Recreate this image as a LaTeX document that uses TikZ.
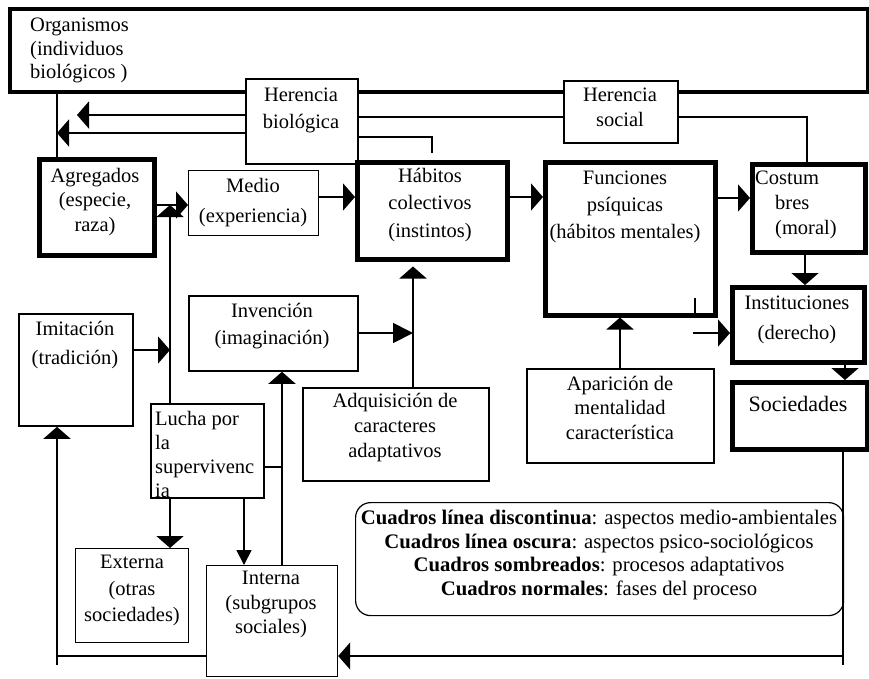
\documentclass[tikz,border=0pt]{standalone}
\usepackage{fontspec}
\setmainfont{Liberation Serif}
\usetikzlibrary{arrows.meta}
\newcommand\fsz{\fontsize{20.5}{24.5}\selectfont}
\newcommand\lsz{\fontsize{20.7}{24.5}\selectfont}
\begin{document}
\begin{tikzpicture}[x=1pt,y=-1pt,
  thickbox/.style={draw, fill=white, line width=4.5pt, inner sep=0pt, anchor=north west},
  thinbox/.style={draw, fill=white, line width=1.8pt, inner sep=0pt, anchor=north west},
  lightbox/.style={draw, fill=white, line width=1.2pt, inner sep=0pt, anchor=north west},
  txt/.style={inner sep=0pt, anchor=north, align=center, font=\fsz, execute at begin node=\strut, yshift=-5pt},
  ltxt/.style={txt, anchor=north west, align=left},
  conn/.style={line width=1.8pt},
  >={Triangle[length=12pt,width=27pt]},
]
\useasboundingbox (0,0) rectangle (869,678);

% ---------- boxes ----------
\node[thickbox, line width=4pt, minimum width=858, minimum height=83] (org) at (8,7) {};
\node[thinbox, minimum width=112, minimum height=85] (hb) at (245,78) {};
\node[thinbox, minimum width=114, minimum height=62] (hs) at (563,80) {};
\node[thickbox, minimum width=115, minimum height=96] (agr) at (37,157) {};
\node[lightbox, minimum width=130, minimum height=65] (med) at (188,170) {};
\node[thickbox, minimum width=150, minimum height=97] (hab) at (355,160) {};
\node[thickbox, minimum width=170, minimum height=153] (fun) at (543,160) {};
\node[thickbox, minimum width=113, minimum height=88] (cos) at (750,162) {};
\node[thickbox, minimum width=132, minimum height=75] (inst) at (730,285) {};
\node[thickbox, minimum width=135, minimum height=67] (soc) at (730,380) {};
\node[thinbox, minimum width=114, minimum height=112] (imi) at (18,313) {};
\node[thinbox, minimum width=169, minimum height=75] (inv) at (188,295) {};
\node[thinbox, minimum width=186, minimum height=93] (adq) at (302,387) {};
\node[thinbox, minimum width=187, minimum height=94] (apa) at (526,368) {};
\node[thinbox, minimum width=113, minimum height=94] (luc) at (150,403) {};
\node[lightbox, minimum width=113, minimum height=94] (ext) at (75,548) {};
\node[lightbox, minimum width=131, minimum height=111] (int) at (206,565) {};
\node[lightbox, rounded corners=15pt, minimum width=488, minimum height=113] (leg) at (355,502) {};

% ---------- helper coordinates ----------
\coordinate (vx) at (57,0);
\coordinate (y115) at (77,115);
\coordinate (y133) at (57,133);
\coordinate (hbturn) at (432,137);
\coordinate (hbend) at (432,153);
\coordinate (y117) at (0,117);
\coordinate (hsturn) at (807,117);
\coordinate (y205) at (0,205);
\coordinate (lx) at (170,0);
\coordinate (y197) at (0,197);
\coordinate (y198) at (0,198);
\coordinate (x805) at (805,0);
\coordinate (tick1) at (695,298);
\coordinate (tick2) at (695,315);
\coordinate (instin) at (693,333);
\coordinate (x845) at (845,0);
\coordinate (x843) at (843,0);
\coordinate (socturn) at (843,656);
\coordinate (socend) at (843,665);
\coordinate (bl) at (57,656);
\coordinate (blend) at (57,665);
\coordinate (imiy) at (0,350);
\coordinate (invy) at (413,333);
\coordinate (x413) at (413,0);
\coordinate (lucR) at (282,467);
\coordinate (x282) at (282,0);
\coordinate (x244) at (244,0);
\coordinate (x620) at (620,0);

% ---------- connectors ----------
\draw[conn] (org.south -| vx) -- (agr.north -| vx);
\draw[conn,line width=2.4pt,->] (hb.west |- y115) -- (y115);
\draw[conn,->] (hb.west |- y133) -- (y133);
\draw[conn] (hb.east |- hbturn) -- (hbturn) -- (hbend);
\draw[conn,line width=2.2pt] (hb.east |- y117) -- (hs.west |- y117);
\draw[conn] (hs.east |- hsturn) -- (hsturn) -- (cos.north -| hsturn);
\draw[conn,->] (agr.east |- y205) -- (med.west |- y205);
\draw[conn,->] (luc.north -| lx) -- (lx |- y205);
\draw[conn,->] (med.east |- y197) -- (hab.west |- y197);
\draw[conn,->] (hab.east |- y197) -- (fun.west |- y197);
\draw[conn,->] (fun.east |- y198) -- (cos.west |- y198);
\draw[conn,->] (cos.south -| x805) -- (inst.north -| x805);
\draw[conn] (tick1) -- (tick2);
\draw[conn,->] (instin) -- (inst.west |- instin);
\draw[conn,->] (inst.south -| x845) -- (soc.north -| x845);
\draw[conn] (soc.south -| x843) -- (socend);
\draw[conn,->] (socturn) -- (int.east |- socturn);
\draw[conn] (int.west |- bl) -- (bl);
\draw[conn,->] (blend) -- (imi.south -| blend);
\draw[conn,->] (imi.east |- imiy) -- (lx |- imiy);
\draw[conn,-{Triangle[length=20pt,width=20pt]}] (inv.east |- invy) -- (invy);
\draw[conn,->,shorten >=5pt] (adq.north -| x413) -- (hab.south -| x413);
\draw[conn] (luc.east |- lucR) -- (lucR);
\draw[conn,->] (int.north -| x282) -- (inv.south -| x282);
\draw[conn,->] (luc.south -| lx) -- (ext.north -| lx);
\draw[conn,-{Triangle[length=15pt,width=15pt]}] (luc.south -| x244) -- (int.north -| x244);
\draw[conn,->] (apa.north -| x620) -- (fun.south -| x620);

% ---------- texts ----------
\node[ltxt] (torg) at (30,13) {Organismos\\[-1pt](individuos\\[-1pt]biológicos )};
\node[txt] (thb) at (301,83) {Herencia\\[2.5pt]biológica};
\node[txt] (ths) at (620,83) {Herencia\\[0.5pt]social};
\node[txt] (tagr) at (95,163) {Agregados\\(especie,\\raza)};
\node[txt] (tmed) at (253,173) {Medio\\[5.5pt](experiencia)};
\node[txt] (thab) at (430,163) {Hábitos\\[3pt]colectivos\\[3pt](instintos)};
\node[txt] (tfun) at (625,166) {Funciones\\[2.5pt]psíquicas\\[2.5pt](hábitos mentales)};
\node[ltxt] (tcos) at (755,166) {Costum\\\hspace*{20pt}bres\\[0.5pt]\hspace*{20pt}(moral)};
\node[txt] (tinst) at (797,291) {Instituciones\\[5.5pt](derecho)};
\node[txt, font=\fontsize{22}{24.5}\selectfont] (tsoc) at (798,389) {Sociedades};
\node[txt] (timi) at (75,316) {Imitación\\[4.5pt](tradición)};
\node[txt] (tinv) at (272,298) {Invención\\[2.5pt](imaginación)};
\node[txt] (tadq) at (395,388) {Adquisición de\\[0.5pt]caracteres\\[0.5pt]adaptativos};
\node[txt] (tapa) at (620,371) {Aparición de\\mentalidad\\característica};
\node[ltxt] (tluc) at (155,406) {Lucha por\\[-0.5pt]la\\[-0.5pt]supervivenc\\[-0.5pt]ia};
\node[txt] (text) at (132,550) {Externa\\[2pt](otras\\[2pt]sociedades)};
\node[txt] (tint) at (271,566) {Interna\\(subgrupos\\sociales)};
\node[txt, font=\lsz] (tleg) at (599,505) {\textbf{Cuadros línea discontinua}: aspectos medio-ambientales\\[-1pt]
  \textbf{Cuadros línea oscura}: aspectos psico-sociológicos\\[-1pt]
  \textbf{Cuadros sombreados}: procesos adaptativos\\[-1pt]
  \textbf{Cuadros normales}: fases del proceso};
\end{tikzpicture}
\end{document}
